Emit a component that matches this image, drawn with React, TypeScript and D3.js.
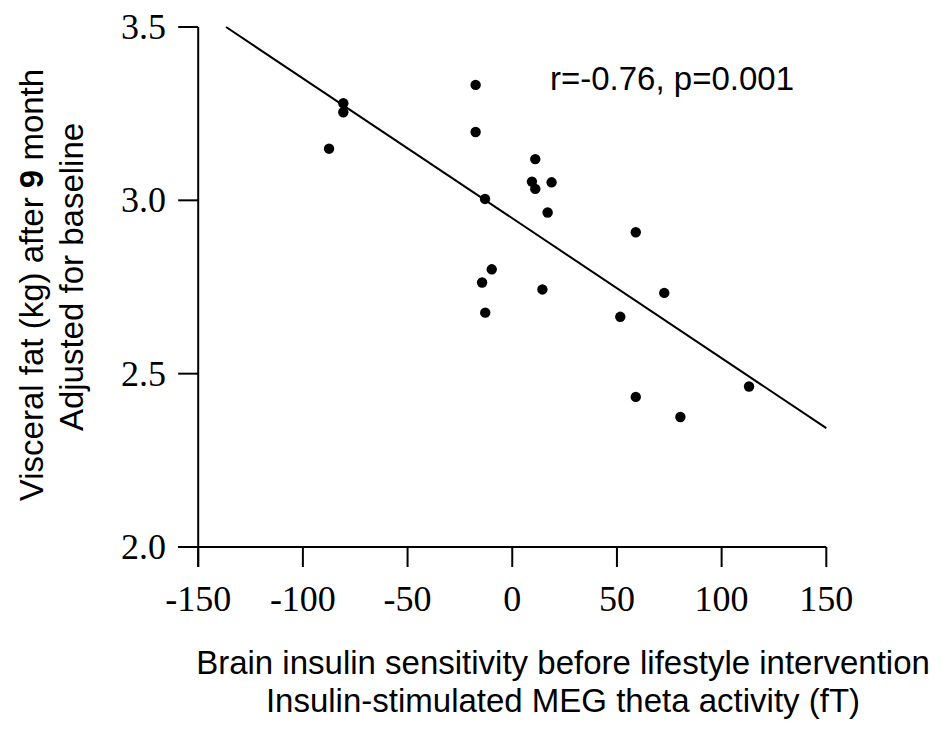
import React from "react";
import * as d3 from "d3";

const pointsX = [-80.7, -80.7, -87.5, -17.5, -17.5, 11.0, 9.4, 11.0, 18.8, -13.0, 16.9, -9.8, -14.4, 14.4, -12.9, 59.0, 72.6, 51.6, 113.1, 59.0, 80.3];
const pointsY = [3.28, 3.254, 3.149, 3.333, 3.197, 3.119, 3.054, 3.033, 3.052, 3.004, 2.965, 2.801, 2.763, 2.743, 2.676, 2.908, 2.733, 2.664, 2.463, 2.433, 2.375];
const fitX = [-136.7, 150];
const fitY = [3.5, 2.343];
const xTicks = [-150, -100, -50, 0, 50, 100, 150];
const yTicks = [2.0, 2.5, 3.0, 3.5];
const annotation = "r=-0.76, p=0.001";
const xTitle = ["Brain insulin sensitivity before lifestyle intervention", "Insulin-stimulated MEG theta activity (fT)"];
const yTitle2 = "Adjusted for baseline";

export default function App() {
  const W = 947, H = 740;
  const x = d3.scaleLinear().domain([-150, 150]).range([198.2, 826.3]);
  const y = d3.scaleLinear().domain([2, 3.5]).range([547, 27]);
  const line = d3.line<number>().x((d) => x(fitX[d])).y((d) => y(fitY[d]));
  const sans = "Arial, 'Liberation Sans', sans-serif";
  const serif = "'Times New Roman', 'Liberation Serif', serif";
  const x0 = x(-150), y0 = y(2);
  return (
    <div style={{ position: "absolute", left: 0, top: 0 }}>
      <svg width={W} height={H} style={{ display: "block", background: "#fff" }}>
        <line x1={x0} x2={x0} y1={y(3.5)} y2={y0 + 20} stroke="#000" strokeWidth={2} />
        <line x1={x0 - 20} x2={x(150)} y1={y0} y2={y0} stroke="#000" strokeWidth={2} />
        {xTicks.map((t) => (
          <g key={"x" + t}>
            <line x1={x(t)} x2={x(t)} y1={y0} y2={y0 + 20} stroke="#000" strokeWidth={2} />
            <text x={x(t)} y={611} textAnchor="middle" fontFamily={serif} fontSize={36} fill="#000">
              {t}
            </text>
          </g>
        ))}
        {yTicks.map((t) => (
          <g key={"y" + t}>
            <line x1={x0 - 20} x2={x0} y1={y(t)} y2={y(t)} stroke="#000" strokeWidth={2} />
            <text x={166} y={y(t) + 12} textAnchor="end" fontFamily={serif} fontSize={36} fill="#000">
              {t.toFixed(1)}
            </text>
          </g>
        ))}
        <path d={line([0, 1]) || ""} fill="none" stroke="#000" strokeWidth={2} />
        {pointsX.map((px, i) => (
          <circle key={i} cx={x(px)} cy={y(pointsY[i])} r={5.2} fill="#000" />
        ))}
        <text x={550} y={90} fontFamily={sans} fontSize={33} fill="#000">
          {annotation}
        </text>
        <text x={563} y={674} textAnchor="middle" fontFamily={sans} fontSize={33} fill="#000">
          {xTitle[0]}
        </text>
        <text x={563} y={712} textAnchor="middle" fontFamily={sans} fontSize={33} fill="#000">
          {xTitle[1]}
        </text>
        <text transform="translate(43,285) rotate(-90)" textAnchor="middle" fontFamily={sans} fontSize={33} fill="#000">
          Visceral fat (kg) after <tspan fontWeight="bold">9</tspan> month
        </text>
        <text transform="translate(83,277) rotate(-90)" textAnchor="middle" fontFamily={sans} fontSize={33} fill="#000">
          {yTitle2}
        </text>
      </svg>
    </div>
  );
}
